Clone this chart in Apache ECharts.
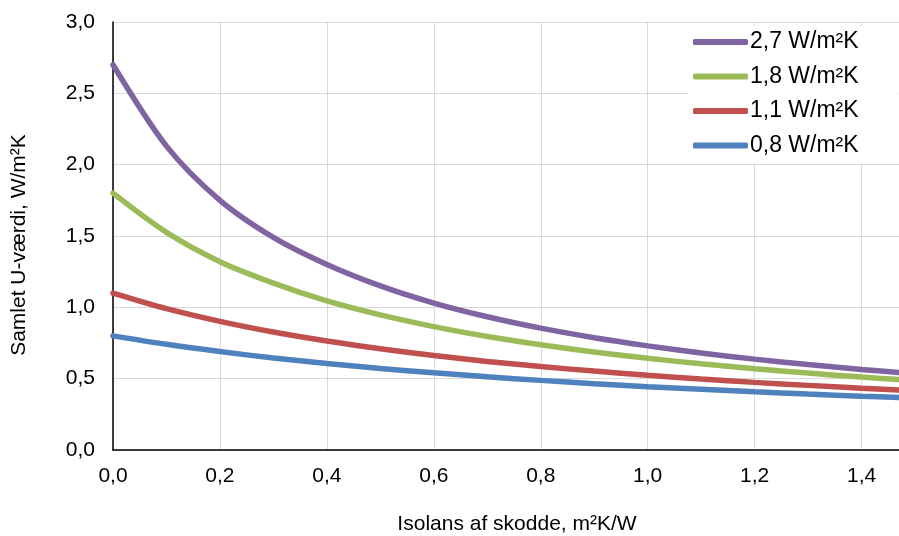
<!DOCTYPE html>
<html>
<head>
<meta charset="utf-8">
<script src="https://cdn.jsdelivr.net/npm/echarts@6/dist/echarts.min.js"></script>
<style>html,body{margin:0;padding:0;background:#fff}#c{width:899px;height:536px}</style>
</head>
<body>
<div id="c"></div>
<script>
const xValues = [0, 0.1, 0.2, 0.3, 0.4, 0.5, 0.6, 0.7, 0.8, 0.9, 1.0, 1.1, 1.2, 1.3, 1.4, 1.47];
const u27 = [2.70, 2.13, 1.75, 1.49, 1.30, 1.15, 1.03, 0.934, 0.854, 0.787, 0.730, 0.680, 0.637, 0.599, 0.565, 0.543];
const u18 = [1.80, 1.525, 1.32, 1.17, 1.045, 0.947, 0.865, 0.796, 0.738, 0.687, 0.643, 0.604, 0.570, 0.539, 0.511, 0.494];
const u11 = [1.10, 0.991, 0.902, 0.827, 0.764, 0.710, 0.663, 0.621, 0.585, 0.553, 0.524, 0.498, 0.474, 0.453, 0.433, 0.420];
const u08 = [0.80, 0.741, 0.690, 0.645, 0.606, 0.571, 0.541, 0.513, 0.488, 0.465, 0.444, 0.426, 0.408, 0.392, 0.377, 0.368];
const seriesNames = ['2,7 W/m²K', '1,8 W/m²K', '1,1 W/m²K', '0,8 W/m²K'];
const seriesData = [u27, u18, u11, u08];
const colors = ['#8064A2', '#9BBB59', '#C0504D', '#4F81BD'];
const xTitle = 'Isolans af skodde, m²K/W';
const yTitle = 'Samlet U-værdi, W/m²K';

const fmt = v => v.toFixed(1).replace('.', ',');
const font = 'Liberation Sans, Arial, sans-serif';

const chart = echarts.init(document.getElementById('c'), null, {renderer: 'canvas'});
chart.setOption({
  animation: false,
  backgroundColor: '#fff',
  color: colors,
  grid: {left: 113, right: 0, top: 22, bottom: 86, containLabel: false, outerBoundsMode: 'none'},
  legend: {
    orient: 'vertical',
    left: 688,
    top: 26,
    padding: [4, 40, 6, 5],
    backgroundColor: '#fff',
    itemWidth: 55,
    itemHeight: 6,
    itemGap: 10.5,
    icon: 'roundRect',
    textStyle: {fontSize: 23, lineHeight: 24, color: '#000', fontFamily: font, padding: [0, 0, 0, -3]},
    data: seriesNames
  },
  xAxis: {
    type: 'value', min: 0, max: 1.47, interval: 0.2,
    axisLine: {show: true, lineStyle: {color: '#000', width: 1.5}},
    axisTick: {show: false},
    splitLine: {show: true, lineStyle: {color: '#d9d9d9', width: 1}},
    axisLabel: {formatter: fmt, fontSize: 21, color: '#000', fontFamily: font, margin: 16, showMaxLabel: false},
    name: xTitle, nameLocation: 'middle', nameGap: 64,
    nameTextStyle: {fontSize: 21, color: '#000', fontFamily: font, padding: [0, 0, 0, 22]}
  },
  yAxis: {
    type: 'value', min: 0, max: 3, interval: 0.5,
    axisLine: {show: true, lineStyle: {color: '#000', width: 1.5}},
    axisTick: {show: false},
    splitLine: {show: true, lineStyle: {color: '#d9d9d9', width: 1}},
    axisLabel: {formatter: fmt, fontSize: 21, color: '#000', fontFamily: font, margin: 18},
    name: yTitle, nameLocation: 'middle', nameGap: 83, nameRotate: 90,
    nameTextStyle: {fontSize: 21, color: '#000', fontFamily: font, padding: [0, 18, 0, 0]}
  },
  series: seriesNames.map((n, i) => ({
    name: n,
    type: 'line',
    smooth: 0.3,
    showSymbol: false,
    symbol: 'none',
    lineStyle: {width: 5.5, color: colors[i], cap: 'round'},
    data: xValues.map((x, j) => [x, seriesData[i][j]])
  }))
});
</script>
</body>
</html>
